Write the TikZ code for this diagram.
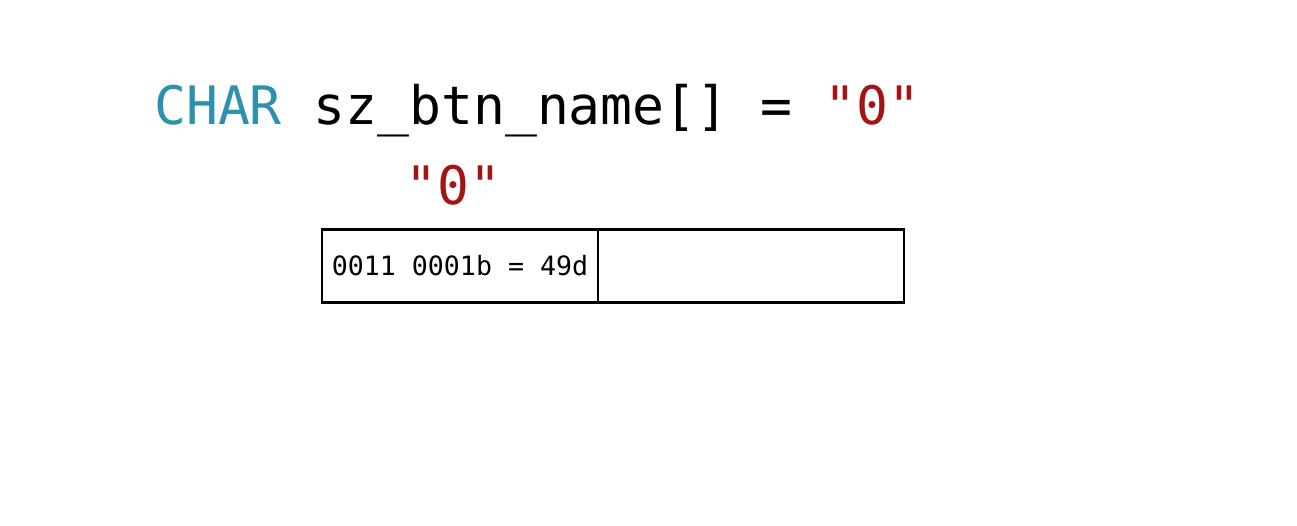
\documentclass[tikz,border=0pt]{standalone}
\usepackage{fontspec}
\setmonofont{DejaVu Sans Mono}
\usetikzlibrary{positioning}
\definecolor{typeblue}{HTML}{2B91AF}
\definecolor{strred}{HTML}{A31515}
\newcommand{\us}{\char`\_}

\begin{document}
\begin{tikzpicture}[x=1pt,y=-1pt,
  code/.style={anchor=base west, inner sep=0pt, font=\ttfamily\fontsize{53}{60}\selectfont},
  cell/.style={draw, line width=2.7pt, minimum height=73.5pt, inner sep=0pt, outer sep=0pt,
    font=\ttfamily\fontsize{26.6}{30}\selectfont}]
  \useasboundingbox (0,0) rectangle (1297,526);

  \node[code] (decl) at (154,125) {\textcolor{typeblue}{CHAR} sz\us btn\us name[] = \textcolor{strred}{"0"}};
  \node[code, text=strred] (val) at (405,205) {"0"};

  % memory cells
  \node[cell, minimum width=276pt] (b0) at (460,266) {0011 0001b = 49d};
  \node[cell, minimum width=306pt, anchor=west] (b1) at (b0.east) {};
\end{tikzpicture}
\end{document}
